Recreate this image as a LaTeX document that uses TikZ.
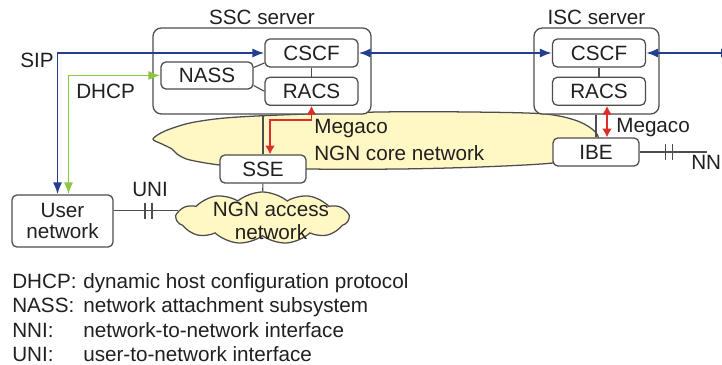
\documentclass[tikz,border=0pt]{standalone}
\usepackage{fontspec}
\setmainfont{Liberation Sans}
\usetikzlibrary{positioning,shapes.symbols,arrows.meta}
\definecolor{sipblue}{RGB}{35,62,145}
\definecolor{dhcpgreen}{RGB}{141,198,63}
\definecolor{megacored}{RGB}{222,45,38}
\definecolor{cloudyellow}{RGB}{255,248,196}
\definecolor{edgegray}{RGB}{77,77,77}
\definecolor{textgray}{RGB}{35,31,32}
\tikzset{
  link/.style={draw=edgegray,line width=0.8pt},
  bars/.pic={\draw[link] (-3.5,-8) -- (-3.5,8) (3.5,-8) -- (3.5,8);}
}
\begin{document}
\begin{tikzpicture}[x=0.025cm,y=-0.025cm,
  font=\fontsize{14.7}{17.4}\selectfont,text=textgray,
  box/.style={draw=edgegray,line width=0.9pt,rounded corners=3.5pt,fill=white,
    inner sep=0pt,minimum width=2.325cm,minimum height=0.7cm},
  server/.style={draw=edgegray,line width=0.9pt,rounded corners=6pt,fill=white,
    minimum width=#1,minimum height=2.15cm},
  netcloud/.style={draw=edgegray,line width=0.9pt,fill=cloudyellow},
  sip/.style={draw=sipblue,line width=1.4pt,
    {Latex[length=3mm,width=2.3mm]}-{Latex[length=3mm,width=2.3mm]}},
  dhcp/.style={draw=dhcpgreen,line width=1.4pt,
    {Latex[length=3mm,width=2.3mm]}-{Latex[length=3mm,width=2.3mm]}},
  megaco/.style={draw=megacored,line width=1.4pt,
    {Latex[length=2.2mm,width=2.5mm]}-{Latex[length=2.2mm,width=2.5mm]}}]
\useasboundingbox (0,0) rectangle (722,365);

% core network
\draw[netcloud] plot[smooth cycle] coordinates {(153,139) (165,131) (190,123)
  (225,118) (280,115) (380,112) (470,112) (545,114) (580,122) (598,136)
  (590,155) (553,163) (480,167) (400,169) (310,169) (230,166) (190,160)
  (177,154) (172,149) (162,144)};

% servers
\node[server=5.45cm] (ssc) at (262,71) {};
\node[above=2pt of ssc,inner sep=0pt] (ssclabel) {SSC server};
\node[box] (cscf1) at (311.5,53) {CSCF};
\node[box,below=0.225cm of cscf1] (racs1) {RACS};
\node[box,minimum width=2.3cm,minimum height=0.675cm] (nass) at (207,75.5) {NASS};

\node[server=3.125cm] (isc) at (596.5,71) {};
\node[above=2pt of isc,inner sep=0pt] (isclabel) {ISC server};
\node[box] (cscf2) at (599,53) {CSCF};
\node[box,below=0.225cm of cscf2] (racs2) {RACS};

\node[box,minimum width=2.15cm] (sse) at (263,169) {SSE};
\node[box,minimum width=2.15cm] (ibe) at (596,152) {IBE};
\node[box,minimum width=2.525cm,minimum height=1.3cm,align=center,
  font=\fontsize{14.7}{15.6}\selectfont] (user) at (62.5,221) {User\\network};

% access network
\node[netcloud,cloud,cloud puffs=11,cloud puff arc=80,aspect=3.4,inner sep=0pt,
  minimum width=4.3cm,minimum height=1.3cm] (access) at (262.5,218) {};
\node[align=center,font=\fontsize{14.7}{16.3}\selectfont] (accesstext)
  at (271,221) {NGN access\\network};

\coordinate (nniend) at (707,152);
\coordinate (sipend) at (733,53);

\draw[link] (cscf1) -- (racs1);
\draw[link] ([yshift=0.2cm]nass.east) -- ([yshift=-0.25cm]cscf1.west);
\draw[link] ([yshift=-0.25cm]nass.east) -- (racs1.west);
\draw[link] (cscf2) -- (racs2);
\draw[link] (sse.north) -- (sse.north |- ssc.south);
\draw[link] (ibe.north) -- (ibe.north |- isc.south);
\draw[link] (sse) -- (access);
\draw[link] (user.east |- access.175) -- (access.175) pic[pos=.54]{bars};
\draw[link] (ibe) -- (nniend) pic[pos=.43]{bars};

\draw[sip] (cscf1.west) -| ([xshift=-0.125cm]user.north);
\draw[dhcp] (nass.west) -| ([xshift=0.15cm]user.north);
\draw[sip] (cscf1) -- (cscf2);
\draw[sip] (cscf2) -- (sipend);
\draw[megaco] (racs1.south) -- ++(0,14) -| ([xshift=0.175cm]sse.north);
\draw[megaco] ([xshift=0.275cm]ibe.north) -- ([xshift=0.275cm]ibe.north |- racs2.south);

% labels
\node[anchor=base west,inner sep=0pt] (siplabel) at (20,68) {SIP};
\node[anchor=base west,inner sep=0pt] (dhcplabel) at (76,99) {DHCP};
\node[anchor=base west,inner sep=0pt] (unilabel) at (132,197) {UNI};
\node[anchor=base west,inner sep=0pt] (megaco1) at (314,134) {Megaco};
\node[anchor=base west,inner sep=0pt] (corelabel) at (314,161) {NGN core network};
\node[anchor=base west,inner sep=0pt] (megaco2) at (616,133) {Megaco};
\node[anchor=base west,inner sep=0pt] (nnilabel) at (691,170) {NNI};

\node[anchor=north west,inner sep=0pt] (legend) at (12,271) {%
  \begin{tabular}{@{}p{1.775cm}@{}l@{}}
  DHCP: & dynamic host configuration protocol\\
  NASS: & network attachment subsystem\\
  NNI:  & network-to-network interface\\
  UNI:  & user-to-network interface
  \end{tabular}};
\end{tikzpicture}
\end{document}
